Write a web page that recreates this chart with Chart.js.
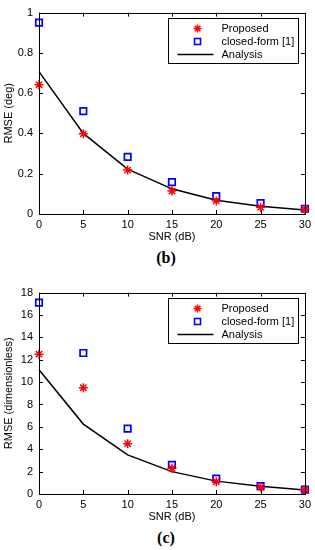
<!DOCTYPE html>
<html>
<head>
<meta charset="utf-8">
<script src="https://cdn.jsdelivr.net/npm/chart.js@4/dist/chart.umd.min.js"></script>
<style>
  html, body { margin: 0; padding: 0; background: #fff; }
  #wrap { position: relative; width: 315px; height: 550px; overflow: hidden; }
  canvas { position: absolute; left: 0; }
  .cap { position: absolute; width: 60px; text-align: center; font: bold 16px "Liberation Serif", "Times New Roman", serif; color: #000; line-height: 18px; }
</style>
</head>
<body>
<div id="wrap">
  <canvas id="c1" width="315" height="244" style="top:0px"></canvas>
  <div class="cap" style="left:136px; top:249px;">(b)</div>
  <canvas id="c2" width="315" height="244" style="top:280px"></canvas>
  <div class="cap" style="left:136px; top:529px;">(c)</div>
</div>
<script>
// ---- data ----
const snr = [0, 5, 10, 15, 20, 25, 30];
const xTicks = [0, 5, 10, 15, 20, 25, 30];

const bProposed = [0.642, 0.398, 0.218, 0.114, 0.065, 0.033, 0.024];
const bClosedForm = [0.95, 0.511, 0.284, 0.158, 0.089, 0.054, 0.026];
const bAnalysis = [0.707, 0.40, 0.223, 0.125, 0.068, 0.039, 0.02];

const cProposed = [12.5, 9.5, 4.5, 2.3, 1.1, 0.6, 0.38];
const cClosedForm = [17.1, 12.6, 5.85, 2.6, 1.38, 0.7, 0.4];
const cAnalysis = [11.1, 6.25, 3.5, 2.0, 1.15, 0.7, 0.35];

const seriesLabels = ['Proposed', 'closed-form [1]', 'Analysis'];

// ---- helpers ----
const FONT = '"Liberation Sans", Arial, sans-serif';
function pts(ys) { return snr.map((x, i) => ({ x: x, y: ys[i] })); }

function drawStar(ctx, x, y, r) {
  ctx.beginPath();
  ctx.moveTo(x - r, y); ctx.lineTo(x + r, y);
  ctx.moveTo(x, y - r); ctx.lineTo(x, y + r);
  const d = r * Math.SQRT1_2;
  ctx.moveTo(x - d, y - d); ctx.lineTo(x + d, y + d);
  ctx.moveTo(x - d, y + d); ctx.lineTo(x + d, y - d);
  ctx.stroke();
}

const matlabAxes = {
  id: 'matlabAxes',
  afterDraw(chart) {
    const ctx = chart.ctx;
    const a = chart.chartArea;
    const xs = chart.scales.x, ys = chart.scales.y;
    ctx.save();
    ctx.strokeStyle = '#000';
    ctx.lineWidth = 1;
    // box
    ctx.strokeRect(Math.round(a.left) + 0.5, Math.round(a.top) + 0.5,
                   Math.round(a.right - a.left), Math.round(a.bottom - a.top));
    const tl = 4;
    ctx.beginPath();
    xs.ticks.forEach(t => {
      const px = Math.round(xs.getPixelForValue(t.value)) + 0.5;
      ctx.moveTo(px, a.bottom); ctx.lineTo(px, a.bottom - tl);
      ctx.moveTo(px, a.top); ctx.lineTo(px, a.top + tl);
    });
    ys.ticks.forEach(t => {
      const py = Math.round(ys.getPixelForValue(t.value)) + 0.5;
      ctx.moveTo(a.left, py); ctx.lineTo(a.left + tl, py);
      ctx.moveTo(a.right, py); ctx.lineTo(a.right - tl, py);
    });
    ctx.stroke();

    // legend
    const w = 130, h = 45;
    const lx = Math.round(a.right - 7 - w) + 0.5;
    const ly = Math.round(a.top + 5) + 0.5;
    ctx.fillStyle = '#fff';
    ctx.fillRect(lx, ly, w, h);
    ctx.strokeRect(lx, ly, w, h);
    const rows = [10, 23, 36];
    const ds = chart.data.datasets;
    ctx.font = '11px ' + FONT;
    ctx.textBaseline = 'middle';
    ctx.textAlign = 'left';
    ds.forEach((d, i) => {
      const cy = ly + rows[i];
      const cx = lx + 29;
      if (d.pointStyle === 'star') {
        ctx.strokeStyle = d.borderColor; ctx.lineWidth = 1.5;
        drawStar(ctx, cx, cy, 4);
      } else if (d.pointStyle === 'rect') {
        ctx.strokeStyle = d.borderColor; ctx.lineWidth = 1.6;
        ctx.strokeRect(cx - 3, cy - 3, 6, 6);
      } else {
        ctx.strokeStyle = d.borderColor; ctx.lineWidth = 1.5;
        ctx.beginPath(); ctx.moveTo(lx + 9, cy); ctx.lineTo(lx + 45, cy); ctx.stroke();
      }
      ctx.fillStyle = '#000';
      ctx.fillText(d.label, lx + 53, cy + 0.5);
    });
    ctx.restore();
  }
};

function makeChart(id, prop, closed, anal, yMax, yStep, yTitle) {
  return new Chart(document.getElementById(id), {
    type: 'scatter',
    data: {
      datasets: [
        { label: seriesLabels[0], data: pts(prop), pointStyle: 'star', pointRadius: 4.5,
          borderColor: '#ff0000', backgroundColor: '#ff0000', pointBorderWidth: 1.5, showLine: false, clip: false },
        { label: seriesLabels[1], data: pts(closed), pointStyle: 'rect', pointRadius: 4.6,
          borderColor: '#0000ff', backgroundColor: 'rgba(0,0,0,0)', pointBorderWidth: 1.7, showLine: false, clip: false },
        { label: seriesLabels[2], data: pts(anal), pointRadius: 0, showLine: true,
          borderColor: '#000000', borderWidth: 1.5, tension: 0, clip: false }
      ]
    },
    options: {
      responsive: false,
      animation: false,
      devicePixelRatio: 1,
      layout: { padding: { top: 9, right: 10, left: 0, bottom: 0 } },
      plugins: { legend: { display: false }, tooltip: { enabled: false } },
      scales: {
        x: {
          type: 'linear', min: 0, max: 30,
          afterBuildTicks: s => { s.ticks = xTicks.map(v => ({ value: v })); },
          grid: { display: false, drawTicks: false },
          border: { display: false },
          ticks: { color: '#000', font: { family: FONT, size: 11 }, padding: 4, maxRotation: 0,
                   callback: v => String(v) },
          title: { display: true, text: 'SNR (dB)', color: '#000', font: { family: FONT, size: 11 },
                   padding: { top: 0, bottom: 0 } },
          afterFit: s => { s.height = 30; }
        },
        y: {
          type: 'linear', min: 0, max: yMax,
          grid: { display: false, drawTicks: false },
          border: { display: false },
          ticks: { color: '#000', font: { family: FONT, size: 11 }, padding: 6, stepSize: yStep,
                   callback: v => String(+Number(v).toFixed(2)) },
          title: { display: true, text: yTitle, color: '#000', font: { family: FONT, size: 11 },
                   padding: { top: 2, bottom: 0 } },
          afterFit: s => { s.width = 39; }
        }
      }
    },
    plugins: [matlabAxes]
  });
}

makeChart('c1', bProposed, bClosedForm, bAnalysis, 1, 0.2, 'RMSE (deg)');
makeChart('c2', cProposed, cClosedForm, cAnalysis, 18, 2, 'RMSE (dimensionless)');
</script>
</body>
</html>
